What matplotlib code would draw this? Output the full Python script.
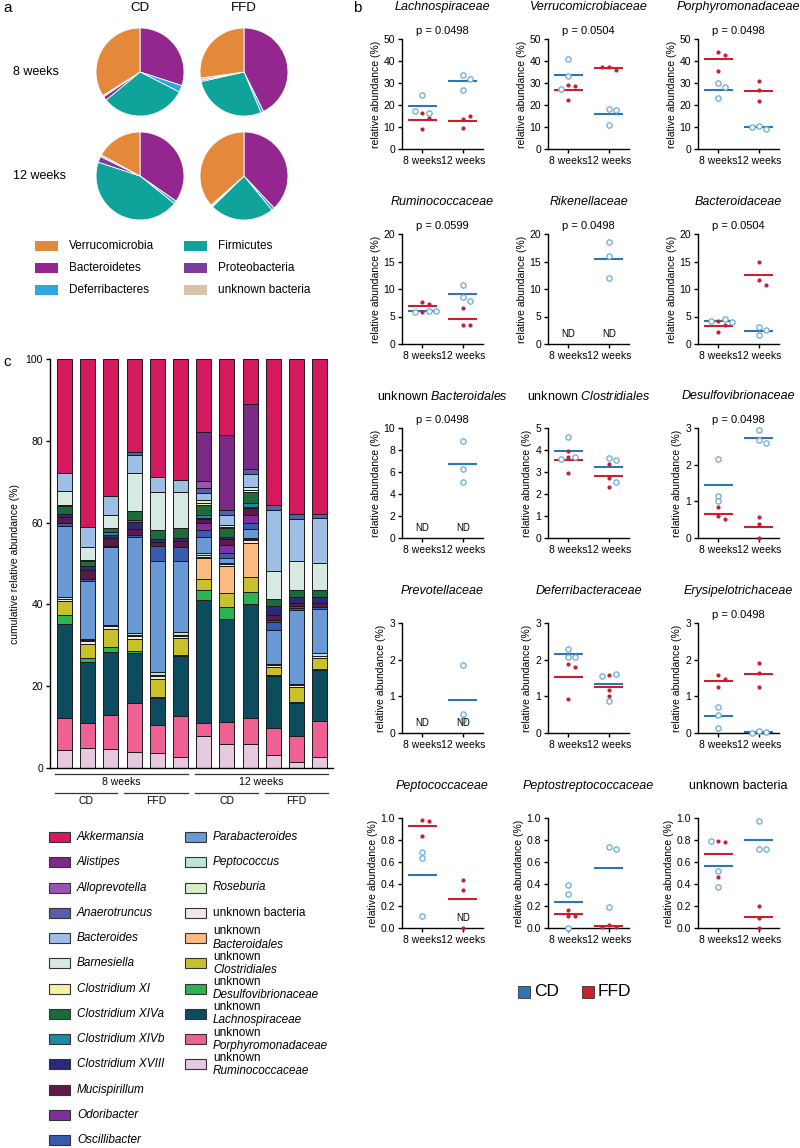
import matplotlib
matplotlib.use('Agg')
import matplotlib.pyplot as plt
import matplotlib.transforms as mtransforms
from matplotlib.patches import Rectangle
import numpy as np

plt.rcParams['font.family'] = ['Liberation Sans', 'DejaVu Sans']
plt.rcParams['mathtext.fontset'] = 'custom'
plt.rcParams['mathtext.rm'] = 'Liberation Sans'
plt.rcParams['mathtext.it'] = 'Liberation Sans:italic'
plt.rcParams['axes.linewidth'] = 1.0

# ---------------- data: panel a (phyla, % of reads) ----------------
phyla = ['Bacteroidetes', 'Deferribacteres', 'Firmicutes', 'Proteobacteria',
         'unknown bacteria', 'Verrucomicrobia']
pie_cd_8 = [30.0, 2.5, 31.5, 1.5, 0.5, 34.0]
pie_ffd_8 = [42.7, 1.0, 27.8, 0.5, 0.8, 27.2]
pie_cd_12 = [34.7, 1.1, 44.3, 2.2, 0.7, 17.0]
pie_ffd_12 = [38.0, 1.1, 23.6, 0.3, 0.5, 36.5]

# ---------------- data: panel c (genera, 12 mice) ----------------
u_ruminococcaceae = [4.3, 5.0, 4.6, 3.9, 3.7, 2.7, 7.8, 5.8, 5.9, 3.1, 1.4, 2.7]
u_porphyromonadaceae = [8.0, 5.9, 8.3, 11.9, 6.7, 9.9, 3.2, 5.5, 6.4, 6.7, 6.4, 8.8]
u_lachnospiraceae = [22.9, 15.0, 15.5, 12.2, 6.6, 14.8, 30.0, 25.2, 27.8, 12.6, 8.0, 12.5]
u_desulfovibrionaceae = [2.2, 1.1, 1.2, 0.6, 0.4, 0.3, 2.6, 2.9, 3.0, 0.3, 0.3, 0.3]
u_clostridiales = [3.4, 3.4, 4.5, 3.0, 4.4, 4.0, 2.7, 3.4, 3.5, 2.0, 3.6, 2.5]
u_bacteroidales = [0, 0, 0, 0, 0, 0, 5.0, 6.5, 8.5, 0, 0, 0]
u_bacteria = [0.6, 0.6, 0.5, 0.6, 0.6, 0.5, 0.4, 0.5, 0.6, 0.4, 0.5, 0.5]
roseburia = [0, 0.2, 0, 0.3, 0.3, 0.3, 0.3, 0, 0.3, 0, 0, 0]
peptococcus = [0.3, 0.4, 0.3, 0.5, 0.8, 0.8, 0.5, 0.3, 0.3, 0.4, 0.4, 0.7]
parabacteroides = [17.5, 14.2, 19.2, 23.5, 27.1, 17.3, 3.9, 1.2, 2.1, 8.2, 18.0, 10.8]
oscillibacter = [0.8, 0.3, 0.3, 0.4, 3.6, 3.5, 1.8, 1.2, 1.5, 2.0, 0.5, 0.6]
odoribacter = [0, 0, 0, 0, 0, 0, 1.6, 2.0, 2.0, 0.4, 0.6, 0]
mucispirillum = [1.4, 2.2, 1.8, 1.6, 1.0, 1.4, 1.0, 1.5, 1.7, 1.3, 0.6, 1.0]
clostridium_xviii = [0.6, 1.0, 0.8, 1.7, 0.8, 0.8, 0.3, 0.6, 0.3, 2.3, 1.5, 1.5]
clostridium_xivb = [0, 0, 0.8, 0.4, 0, 0, 0.8, 0, 0.9, 0, 0, 0]
clostridium_xiva = [2.0, 1.4, 1.0, 2.3, 2.2, 2.5, 2.4, 2.0, 2.7, 1.7, 1.8, 1.5]
clostridium_xi = [0.3, 0.2, 0, 0, 0, 0, 0.4, 0.4, 0.4, 0, 0, 0]
barnesiella = [3.4, 3.2, 3.0, 9.3, 9.3, 8.7, 0.8, 0.4, 0.8, 6.8, 7.0, 6.8]
bacteroides = [4.4, 4.8, 4.6, 4.4, 3.7, 2.9, 1.8, 2.4, 3.3, 14.8, 10.4, 11.0]
anaerotruncus = [0, 0, 0, 0.7, 0, 0, 1.1, 1.3, 1.0, 1.3, 1.1, 1.0]
alloprevotella = [0, 0, 0, 0, 0, 0, 1.8, 0, 0, 0, 0, 0]
alistipes = [0, 0, 0, 0, 0, 0, 11.9, 18.3, 16.0, 0, 0, 0]
akkermansia = [27.9, 41.1, 33.6, 22.7, 28.8, 29.6, 17.9, 18.6, 11.0, 35.7, 37.9, 37.8]

# ---------------- data: panel b (family abundance, 3 mice per group) ----------------
# [8 weeks values, 12 weeks values]; None = not detected
lachno_cd = [[24.5, 16.5, 17.2], [33.7, 32.0, 27.0]]
lachno_ffd = [[16.2, 14.0, 9.0], [13.8, 15.2, 9.5]]
verruco_cd = [[41.0, 33.0, 27.5], [18.3, 17.8, 11.0]]
verruco_ffd = [[29.0, 28.5, 22.5], [37.5, 35.8, 37.5]]
porphyro_cd = [[30.0, 28.0, 23.0], [10.5, 9.2, 9.8]]
porphyro_ffd = [[44.0, 42.8, 35.3], [30.8, 26.8, 22.0]]
rumino_cd = [[6.0, 5.9, 6.0], [10.8, 8.5, 7.8]]
rumino_ffd = [[7.6, 7.3, 5.8], [6.6, 3.5, 3.5]]
rikenell_cd = [None, [18.5, 16.0, 12.0]]
rikenell_ffd = [None, None]
bacteroidac_cd = [[4.6, 4.1, 4.0], [3.1, 2.5, 1.6]]
bacteroidac_ffd = [[4.1, 3.4, 2.2], [15.0, 11.7, 10.8]]
ubactdl_cd = [None, [8.8, 6.3, 5.1]]
ubactdl_ffd = [None, None]
uclostr_cd = [[4.6, 3.7, 3.6], [3.65, 3.55, 2.55]]
uclostr_ffd = [[3.95, 3.7, 2.95], [3.35, 2.75, 2.3]]
desulfo_cd = [[2.15, 1.15, 1.0], [2.95, 2.68, 2.58]]
desulfo_ffd = [[0.85, 0.6, 0.52], [0.56, 0.38, 0.0]]
prevo_cd = [None, [1.85, 0.52, 0.36]]
prevo_ffd = [None, None]
deferri_cd = [[2.3, 2.08, 2.08], [1.6, 1.55, 0.88]]
deferri_ffd = [[1.88, 1.8, 0.92], [1.57, 1.18, 1.02]]
erysi_cd = [[0.72, 0.5, 0.15], [0.05, 0.02, 0.0]]
erysi_ffd = [[1.57, 1.47, 1.25], [1.92, 1.65, 1.25]]
peptococ_cd = [[0.69, 0.64, 0.11], None]
peptococ_ffd = [[0.98, 0.97, 0.84], [0.44, 0.35, 0.0]]
peptostr_cd = [[0.39, 0.31, 0.0], [0.74, 0.72, 0.19]]
peptostr_ffd = [[0.16, 0.11, 0.11], [0.03, 0.01, 0.01]]
ubact_cd = [[0.79, 0.52, 0.37], [0.97, 0.72, 0.72]]
ubact_ffd = [[0.79, 0.78, 0.46], [0.2, 0.09, 0.0]]

family_titles = ['Lachnospiraceae', 'Verrucomicrobiaceae', 'Porphyromonadaceae',
                 'Ruminococcaceae', 'Rikenellaceae', 'Bacteroidaceae',
                 r'unknown $\mathit{Bacteroidales}$', r'unknown $\mathit{Clostridiales}$',
                 'Desulfovibrionaceae', 'Prevotellaceae', 'Deferribacteraceae',
                 'Erysipelotrichaceae', 'Peptococcaceae', 'Peptostreptococcaceae',
                 'unknown bacteria']
p_values = ['0.0498', '0.0504', '0.0498', '0.0599', '0.0498', '0.0504',
            '0.0498', None, '0.0498', None, None, '0.0498', None, None, None]
y_max = [50, 50, 50, 20, 20, 20, 10, 5, 3, 3, 3, 3, 1.0, 1.0, 1.0]
y_step = [10, 10, 10, 5, 5, 5, 2, 1, 1, 1, 1, 1, 0.2, 0.2, 0.2]
weeks = ['8 weeks', '12 weeks']

cd_sets = [lachno_cd, verruco_cd, porphyro_cd, rumino_cd, rikenell_cd, bacteroidac_cd,
           ubactdl_cd, uclostr_cd, desulfo_cd, prevo_cd, deferri_cd, erysi_cd,
           peptococ_cd, peptostr_cd, ubact_cd]
ffd_sets = [lachno_ffd, verruco_ffd, porphyro_ffd, rumino_ffd, rikenell_ffd, bacteroidac_ffd,
            ubactdl_ffd, uclostr_ffd, desulfo_ffd, prevo_ffd, deferri_ffd, erysi_ffd,
            peptococ_ffd, peptostr_ffd, ubact_ffd]

# ---------------- styles ----------------
phyla_colors = ['#93278F', '#2AA9E0', '#10A39B', '#7B3C9E', '#D8C3A5', '#E4883C']
CD_LINE = '#2E75B6'
CD_MARK = '#6AAAD8'
FFD_COL = '#C8202F'

# legend order (top of stack = first)
genera = [
    ('Akkermansia', akkermansia, '#D4195F'),
    ('Alistipes', alistipes, '#7A2A84'),
    ('Alloprevotella', alloprevotella, '#9A52B3'),
    ('Anaerotruncus', anaerotruncus, '#5560A8'),
    ('Bacteroides', bacteroides, '#9DBFE6'),
    ('Barnesiella', barnesiella, '#D6EAE2'),
    ('Clostridium XI', clostridium_xi, '#F8F0A2'),
    ('Clostridium XIVa', clostridium_xiva, '#1E6A3A'),
    ('Clostridium XIVb', clostridium_xivb, '#1A8AA6'),
    ('Clostridium XVIII', clostridium_xviii, '#2A2A78'),
    ('Mucispirillum', mucispirillum, '#5E1A45'),
    ('Odoribacter', odoribacter, '#7E2FA0'),
    ('Oscillibacter', oscillibacter, '#3A5AB0'),
    ('Parabacteroides', parabacteroides, '#6A9AD6'),
    ('Peptococcus', peptococcus, '#BDE3DA'),
    ('Roseburia', roseburia, '#D9EDCB'),
    ('unknown bacteria', u_bacteria, '#F7E3EA'),
    ('unknown|Bacteroidales', u_bacteroidales, '#FDBB82'),
    ('unknown|Clostridiales', u_clostridiales, '#C9C12B'),
    ('unknown|Desulfovibrionaceae', u_desulfovibrionaceae, '#2DB352'),
    ('unknown|Lachnospiraceae', u_lachnospiraceae, '#0D4C5E'),
    ('unknown|Porphyromonadaceae', u_porphyromonadaceae, '#EE6192'),
    ('unknown|Ruminococcaceae', u_ruminococcaceae, '#E7C9DF'),
]

W, H = 800, 1148
fig = plt.figure(figsize=(W / 100, H / 100), dpi=100)


def axes_px(x0, y0, x1, y1):
    return fig.add_axes([x0 / W, 1 - y1 / H, (x1 - x0) / W, (y1 - y0) / H])


ov = axes_px(0, 0, W, H)
ov.set_xlim(0, W)
ov.set_ylim(H, 0)
ov.axis('off')

# panel letters
for lab, (x, y) in zip('abc', [(3, 8), (353, 8), (3, 362)]):
    ov.text(x, y, lab, fontsize=11, va='center', ha='left')

# ---------------- panel a: pies ----------------
pie_cx = [140, 244]
pie_cy = [72, 176]
ov.text(pie_cx[0], 8, 'CD', fontsize=9.5, ha='center', va='center')
ov.text(pie_cx[1], 8, 'FFD', fontsize=9.5, ha='center', va='center')
ov.text(13, pie_cy[0], '8 weeks', fontsize=9, va='center')
ov.text(13, pie_cy[1], '12 weeks', fontsize=9, va='center')
pie_grid = [[pie_cd_8, pie_ffd_8], [pie_cd_12, pie_ffd_12]]
for i in range(2):
    for j in range(2):
        cx, cy = pie_cx[j], pie_cy[i]
        ax = axes_px(cx - 44, cy - 44, cx + 44, cy + 44)
        ax.pie(pie_grid[i][j], colors=phyla_colors, startangle=90, counterclock=False,
               wedgeprops=dict(edgecolor='white', linewidth=0.6))
        ax.set_xlim(-1, 1)
        ax.set_ylim(-1, 1)

pie_leg = [('Verrucomicrobia', 5, 0, 0), ('Bacteroidetes', 0, 0, 1), ('Deferribacteres', 1, 0, 2),
           ('Firmicutes', 2, 1, 0), ('Proteobacteria', 3, 1, 1), ('unknown bacteria', 4, 1, 2)]
for name, ci, col, row in pie_leg:
    x = [35, 184][col]
    y = 246 + row * 22
    ov.add_patch(Rectangle((x, y - 5), 23, 10, facecolor=phyla_colors[ci], edgecolor='none'))
    ov.text(x + 34, y, name, fontsize=8.5, va='center')

# ---------------- panel c: stacked bars ----------------
axc = axes_px(50, 359, 333, 768)
xb = np.arange(12)
bottom = np.zeros(12)
for name, vals, col in genera[::-1]:
    v = np.array(vals, dtype=float)
    axc.bar(xb, v, width=0.65, bottom=bottom, color=col, edgecolor='#1a1a1a', linewidth=0.7)
    bottom += v
axc.set_xlim(-0.625, 11.57)
axc.set_ylim(0, 100)
axc.set_yticks([0, 20, 40, 60, 80, 100])
axc.set_xticks([])
axc.spines['top'].set_visible(False)
axc.spines['right'].set_visible(False)
axc.tick_params(axis='y', labelsize=7.5, length=3, width=1, pad=2)
axc.set_ylabel('cumulative relative abundance (%)', fontsize=7.5, labelpad=4)

tr = mtransforms.blended_transform_factory(axc.transData, axc.transAxes)
for (x0, x1, lab) in [(-0.41, 5.32, '8 weeks'), (5.63, 11.36, '12 weeks')]:
    axc.plot([x0, x1], [-0.015, -0.015], color='#333333', lw=0.9, transform=tr, clip_on=False)
    axc.text((x0 + x1) / 2, -0.034, lab, fontsize=7.5, ha='center', va='center', transform=tr)
for (x0, x1, lab) in [(-0.41, 2.26, 'CD'), (2.56, 5.32, 'FFD'), (5.63, 8.34, 'CD'), (8.64, 11.36, 'FFD')]:
    axc.plot([x0, x1], [-0.061, -0.061], color='#333333', lw=0.9, transform=tr, clip_on=False)
    axc.text((x0 + x1) / 2, -0.081, lab, fontsize=7.5, ha='center', va='center', transform=tr)

# genus legend
for k, (name, vals, col) in enumerate(genera):
    c = 0 if k < 13 else 1
    r = k if k < 13 else k - 13
    x = [49, 185][c]
    y = 837 + r * 25.25
    ov.add_patch(Rectangle((x, y - 5), 21, 10, facecolor=col, edgecolor='#333333', linewidth=0.8))
    if '|' in name:
        a, b = name.split('|')
        ov.text(x + 28, y - 6.5, a, fontsize=8.5, va='center')
        ov.text(x + 28, y + 6.5, b, fontsize=8.5, va='center', style='italic')
    elif name == 'unknown bacteria':
        ov.text(x + 28, y, name, fontsize=8.5, va='center')
    else:
        ov.text(x + 28, y, name, fontsize=8.5, va='center', style='italic')


# ---------------- panel b: scatter panels ----------------
def spread(ys, ymax, step=0.17):
    placed = []
    offs = []
    for y in ys:
        off = 0
        for o in (0, step, -step, 2 * step, -2 * step):
            if all(abs(y - py) > 0.045 * ymax or abs(o - px) > step * 0.9 for px, py in placed):
                off = o
                break
        placed.append((off, y))
        offs.append(off)
    return offs


col_left = [402, 548, 698]
row_top = [39, 234, 428, 623, 818]
for k in range(15):
    r, c = divmod(k, 3)
    x0, y0 = col_left[c], row_top[r]
    ax = axes_px(x0, y0, x0 + 81, y0 + 110)
    cx = x0 + 40.5
    title = family_titles[k]
    if '$' in title or title == 'unknown bacteria':
        ov.text(cx, y0 - 32, title, fontsize=9, ha='center', va='center')
    else:
        ov.text(cx, y0 - 32, title, fontsize=9, ha='center', va='center', style='italic')
    if p_values[k]:
        ov.text(cx, y0 - 8, 'p = ' + p_values[k], fontsize=8, ha='center', va='center')

    ymax = y_max[k]
    trn = mtransforms.blended_transform_factory(ax.transData, ax.transAxes)
    for w in range(2):
        cd = cd_sets[k][w]
        ffd = ffd_sets[k][w]
        pts = []
        if ffd is not None:
            pts += [('ffd', v) for v in ffd]
        if cd is not None:
            pts += [('cd', v) for v in cd]
        offs = spread([v for _, v in pts], ymax)
        if cd is not None:
            ax.hlines(np.mean(cd), w - 0.36, w + 0.36, color=CD_LINE, lw=1.5, zorder=2)
        if ffd is not None:
            ax.hlines(np.mean(ffd), w - 0.36, w + 0.36, color=FFD_COL, lw=1.5, zorder=2)
        for (g, v), o in zip(pts, offs):
            if g == 'cd':
                ax.plot(w + o, v, 'o', ms=3.8, mfc='white', mec=CD_MARK, mew=0.9,
                        clip_on=False, zorder=3)
            else:
                ax.plot(w + o, v, 'o', ms=3.0, color=FFD_COL, mew=0, clip_on=False, zorder=3)
        if cd is None or ffd is None:
            ax.text(w, 0.09, 'ND', fontsize=7, ha='center', va='center', transform=trn)

    ax.set_xlim(-0.5, 1.5)
    ax.set_ylim(0, ymax)
    ax.set_yticks(np.arange(0, ymax + y_step[k] / 2, y_step[k]))
    if ymax <= 1:
        ax.set_yticklabels(['%.1f' % t for t in np.arange(0, ymax + 0.1, 0.2)])
    ax.set_xticks([0, 1])
    ax.set_xticklabels(weeks)
    ax.spines['top'].set_visible(False)
    ax.spines['right'].set_visible(False)
    ax.tick_params(labelsize=7.5, length=3, width=1, pad=2)
    ax.set_ylabel('relative abundance (%)', fontsize=7.5, labelpad=2)

# diet legend
ov.add_patch(Rectangle((518, 986), 12, 12, facecolor=CD_LINE, edgecolor='#333333', linewidth=0.6))
ov.text(534, 991, 'CD', fontsize=12.5, va='center')
ov.add_patch(Rectangle((582, 986), 12, 12, facecolor=FFD_COL, edgecolor='#333333', linewidth=0.6))
ov.text(598, 991, 'FFD', fontsize=12.5, va='center')

fig.savefig('out.png', dpi=100)
